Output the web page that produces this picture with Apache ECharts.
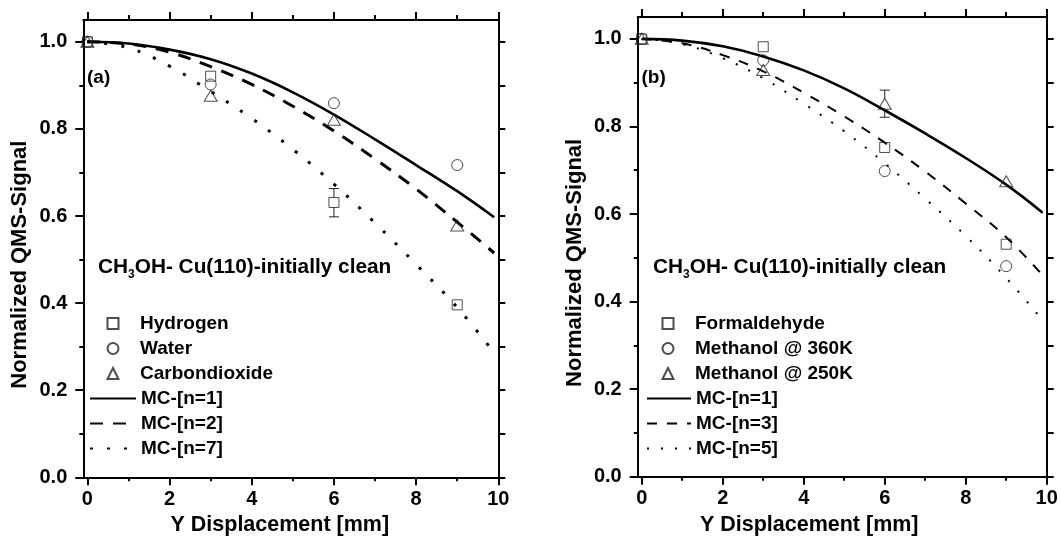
<!DOCTYPE html>
<html>
<head>
<meta charset="utf-8">
<script src="https://cdn.jsdelivr.net/npm/echarts@6/dist/echarts.min.js"></script>
<style>
html,body{margin:0;padding:0;background:#fff;}
#chart{width:1061px;height:544px;}
</style>
</head>
<body>
<div id="chart"></div>
<script>
// ---------- data ----------
const xTicksMajor = [0, 2, 4, 6, 8, 10];
const xTicksMinor = [1, 3, 5, 7, 9];
const yTicksMajor = [0, 0.2, 0.4, 0.6, 0.8, 1.0];
const yTicksMinor = [0.1, 0.3, 0.5, 0.7, 0.9];
const yTicksAll = [0, 0.1, 0.2, 0.3, 0.4, 0.5, 0.6, 0.7, 0.8, 0.9, 1.0];

// model curves (x positions and values)
const curveX = [0, 1, 2, 3, 4, 5, 6, 7, 8, 9, 9.9];
const leftMC1 = [1.0, 0.996, 0.982, 0.960, 0.927, 0.884, 0.833, 0.776, 0.717, 0.657, 0.597];
const leftMC2 = [1.0, 0.995, 0.976, 0.943, 0.902, 0.852, 0.795, 0.731, 0.662, 0.586, 0.515];
const leftMC7 = [1.0, 0.986, 0.944, 0.886, 0.824, 0.753, 0.673, 0.584, 0.489, 0.390, 0.286];
const rightMC1 = [1.0, 0.996, 0.983, 0.960, 0.928, 0.887, 0.837, 0.784, 0.728, 0.667, 0.603];
const rightMC3 = [1.0, 0.990, 0.963, 0.926, 0.877, 0.823, 0.763, 0.697, 0.624, 0.547, 0.460];
const rightMC5 = [1.0, 0.988, 0.956, 0.910, 0.852, 0.789, 0.716, 0.635, 0.550, 0.454, 0.357];

// measured points
const measX = [0, 3, 6, 9];
const hydrogen = [1.0, 0.921, 0.631, 0.396];
const water = [1.0, 0.902, 0.859, 0.717];
const co2 = [1.0, 0.876, 0.821, 0.578];
const formaldehyde = [1.0, 0.982, 0.752, 0.531];
const methanol360 = [1.0, 0.951, 0.698, 0.481];
const methanol250 = [1.0, 0.929, 0.852, 0.675];

// error bars: [x, value, low, high]
const hydrogenErr = [[6, 0.631, 0.598, 0.663]];
const methanol250Err = [[6, 0.852, 0.821, 0.883]];

const leftPointNames = ['Hydrogen', 'Water', 'Carbondioxide'];
const leftCurveNames = ['MC-[n=1]', 'MC-[n=2]', 'MC-[n=7]'];
const rightPointNames = ['Formaldehyde', 'Methanol @ 360K', 'Methanol @ 250K'];
const rightCurveNames = ['MC-[n=1]', 'MC-[n=3]', 'MC-[n=5]'];

// ---------- helpers ----------
const FONT = "'Liberation Sans', Arial, Helvetica, sans-serif";
const BLACK = '#000';
const pairs = (xs, ys) => xs.map((x, i) => [x, ys[i]]);

function xAxes(g, titleShift) {
  const base = {gridIndex: g, type: 'value', min: -0.1, max: 10, splitLine: {show: false}};
  return [
    Object.assign({}, base, {
      position: 'bottom',
      axisLine: {show: true, onZero: false, lineStyle: {color: BLACK, width: 2}},
      axisTick: {show: true, customValues: xTicksMajor, length: 8, lineStyle: {color: BLACK, width: 2}},
      axisLabel: {show: true, customValues: xTicksMajor, margin: 12, color: BLACK,
        fontSize: 20, fontWeight: 'bold', fontFamily: FONT, formatter: v => String(v)},
      name: 'Y Displacement [mm]', nameLocation: 'middle', nameGap: 32,
      nameTextStyle: {color: BLACK, fontSize: 21.5, fontWeight: 'bold', fontFamily: FONT,
        padding: [0, titleShift * 2, 0, 0]}
    }),
    Object.assign({}, base, {
      position: 'bottom',
      axisLine: {show: false, onZero: false},
      axisTick: {show: true, customValues: xTicksMinor, length: 4, lineStyle: {color: BLACK, width: 2}},
      axisLabel: {show: false}
    }),
    Object.assign({}, base, {
      position: 'top',
      axisLine: {show: true, onZero: false, lineStyle: {color: BLACK, width: 2}},
      axisTick: {show: true, customValues: xTicksMajor, length: 8, lineStyle: {color: BLACK, width: 2}},
      axisLabel: {show: false}
    }),
    Object.assign({}, base, {
      position: 'top',
      axisLine: {show: false, onZero: false},
      axisTick: {show: true, customValues: xTicksMinor, length: 5, lineStyle: {color: BLACK, width: 2}},
      axisLabel: {show: false}
    })
  ];
}

function yAxes(g) {
  const base = {gridIndex: g, type: 'value', min: 0, max: 1.05, splitLine: {show: false}};
  return [
    Object.assign({}, base, {
      position: 'left',
      axisLine: {show: true, onZero: false, lineStyle: {color: BLACK, width: 2}},
      axisTick: {show: true, customValues: yTicksMajor, length: 8, lineStyle: {color: BLACK, width: 2}},
      axisLabel: {show: true, customValues: yTicksMajor, margin: 16, color: BLACK,
        fontSize: 20, fontWeight: 'bold', fontFamily: FONT, formatter: v => v.toFixed(1)},
      name: 'Normalized QMS-Signal', nameLocation: 'middle', nameGap: 52,
      nameTextStyle: {color: BLACK, fontSize: 22, fontWeight: 'bold', fontFamily: FONT,
        padding: [0, 32, 0, 0]}
    }),
    Object.assign({}, base, {
      position: 'left',
      axisLine: {show: false, onZero: false},
      axisTick: {show: true, customValues: yTicksMinor, length: 4, lineStyle: {color: BLACK, width: 2}},
      axisLabel: {show: false}
    }),
    Object.assign({}, base, {
      position: 'right',
      axisLine: {show: true, onZero: false, lineStyle: {color: BLACK, width: 2}},
      axisTick: {show: true, customValues: yTicksAll, length: 7, lineStyle: {color: BLACK, width: 2}},
      axisLabel: {show: false}
    })
  ];
}

function curve(name, g, ys, width, dash) {
  return {
    name, type: 'line', xAxisIndex: g * 4, yAxisIndex: g * 3,
    data: pairs(curveX, ys), smooth: 0.4, symbol: 'none', z: 3,
    itemStyle: {color: BLACK},
    lineStyle: {color: BLACK, width, type: dash},
    emphasis: {disabled: true}
  };
}

function points(name, g, ys, symbol, size) {
  return {
    name, type: 'scatter', xAxisIndex: g * 4, yAxisIndex: g * 3,
    data: pairs(measX, ys), symbol, symbolSize: size, z: 5,
    itemStyle: {color: 'rgba(255,255,255,0)', borderColor: '#222', borderWidth: 1},
    emphasis: {disabled: true}
  };
}

function errBars(g, data) {
  return {
    type: 'custom', xAxisIndex: g * 4, yAxisIndex: g * 3, z: 4, data,
    renderItem(params, api) {
      const x = api.value(0);
      const pV = api.coord([x, api.value(1)]);
      const pLo = api.coord([x, api.value(2)]);
      const pHi = api.coord([x, api.value(3)]);
      const w = 5, gap = 5;
      const st = {stroke: '#222', lineWidth: 1};
      return {type: 'group', children: [
        {type: 'line', shape: {x1: pHi[0], y1: pHi[1], x2: pV[0], y2: pV[1] - gap}, style: st},
        {type: 'line', shape: {x1: pV[0], y1: pV[1] + gap, x2: pLo[0], y2: pLo[1]}, style: st},
        {type: 'line', shape: {x1: pHi[0] - w, y1: pHi[1], x2: pHi[0] + w, y2: pHi[1]}, style: st},
        {type: 'line', shape: {x1: pLo[0] - w, y1: pLo[1], x2: pLo[0] + w, y2: pLo[1]}, style: st}
      ]};
    }
  };
}

function annotation(left) {
  return {
    type: 'text', left: left, top: 257, z: 10,
    style: {
      text: '{m|CH}{s|3}{m|OH- Cu(110)-initially clean}',
      rich: {
        m: {fontSize: 20.8, fontWeight: 'bold', fontFamily: FONT, fill: BLACK, lineHeight: 26},
        s: {fontSize: 12, fontWeight: 'bold', fontFamily: FONT, fill: BLACK, lineHeight: 12, verticalAlign: 'bottom'}
      }
    }
  };
}

function panelLabel(text, left) {
  return {
    type: 'text', left: left, top: 68, z: 10,
    style: {text, fontSize: 19, fontWeight: 'bold', fontFamily: FONT, fill: BLACK}
  };
}

const legendText = {color: BLACK, fontSize: 19, fontWeight: 'bold', fontFamily: FONT, lineHeight: 19};

function pointLegend(names, centerX) {
  return {
    data: names, orient: 'vertical', left: centerX - 5.5, top: 314, padding: 0,
    itemWidth: 11, itemHeight: 11, itemGap: 6, selectedMode: false,
    textStyle: Object.assign({padding: [0, 0, 0, 16.5]}, legendText)
  };
}

function curveLegend(names, left, width) {
  return {
    data: names.map(n => ({name: n, itemStyle: {opacity: 0, color: 'rgba(0,0,0,0)', borderWidth: 0}})),
    orient: 'vertical', left, top: 389, padding: 0,
    itemWidth: width, itemHeight: 11, itemGap: 6, selectedMode: false,
    textStyle: legendText
  };
}

const option = {
  animation: false,
  backgroundColor: '#fff',
  grid: [
    {left: 83.3, right: 1061 - 498.3, top: 20, bottom: 544 - 477.3},
    {left: 637.7, right: 1061 - 1046.7, top: 17, bottom: 544 - 476.7}
  ],
  xAxis: [...xAxes(0, 11), ...xAxes(1, 33)],
  yAxis: [...yAxes(0), ...yAxes(1)],
  legend: [
    pointLegend(leftPointNames, 112),
    curveLegend(leftCurveNames, 89, 46),
    pointLegend(rightPointNames, 667),
    curveLegend(rightCurveNames, 646, 44)
  ],
  graphic: [panelLabel('(a)', 87), panelLabel('(b)', 641.5), annotation(98), annotation(653)],
  series: [
    curve('MC-[n=1]', 0, leftMC1, 2.6, 'solid'),
    curve('MC-[n=2]', 0, leftMC2, 3, [13, 10]),
    curve('MC-[n=7]', 0, leftMC7, 3, [3, 14]),
    points('Hydrogen', 0, hydrogen, 'rect', 10),
    points('Water', 0, water, 'circle', 11),
    points('Carbondioxide', 0, co2, 'triangle', [13, 11]),
    errBars(0, hydrogenErr),
    curve('MC-[n=3]', 1, rightMC3, 2, [10, 10]),
    curve('MC-[n=5]', 1, rightMC5, 2, [2, 12]),
    curve('MC-[n=1]', 1, rightMC1, 2.6, 'solid'),
    points('Formaldehyde', 1, formaldehyde, 'rect', 10),
    points('Methanol @ 360K', 1, methanol360, 'circle', 11),
    points('Methanol @ 250K', 1, methanol250, 'triangle', [13, 11]),
    errBars(1, methanol250Err)
  ]
};

const chart = echarts.init(document.getElementById('chart'), null, {renderer: 'canvas'});
chart.setOption(option);
</script>
</body>
</html>
